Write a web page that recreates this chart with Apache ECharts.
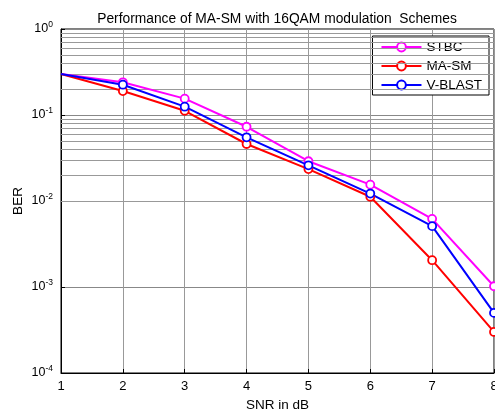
<!DOCTYPE html>
<html>
<head>
<meta charset="utf-8">
<script src="https://cdn.jsdelivr.net/npm/echarts@6/dist/echarts.min.js"></script>
<style>
  html, body { margin: 0; padding: 0; background: #fff; }
  #main { width: 495px; height: 410px; }
</style>
</head>
<body>
<div id="main"></div>
<script>
// data
var snr = [1, 2, 3, 4, 5, 6, 7, 8];
var stbc = [0.3, 0.24, 0.155, 0.073, 0.029, 0.0155, 0.0062, 0.00102];
var masm = [0.3, 0.19, 0.112, 0.046, 0.0235, 0.0112, 0.00205, 0.0003];
var vblast = [0.3, 0.225, 0.125, 0.055, 0.026, 0.0122, 0.0051, 0.0005];
var names = ['STBC', 'MA-SM', 'V-BLAST'];
var colors = ['#ff00ff', '#ff0000', '#0000ff'];
// minor log grid lines (2..9 per decade)
var minorLines = [];
[1e-4, 1e-3, 1e-2, 1e-1].forEach(function (d) {
    for (var k = 2; k <= 9; k++) minorLines.push(+(d * k).toPrecision(3));
});

function pairs(ys) {
    return snr.map(function (x, i) {
        var item = { value: [x, ys[i]] };
        if (i === 0) item.symbol = 'none';
        return item;
    });
}

function makeSeries(name, ys, color) {
    return {
        name: name,
        type: 'line',
        data: pairs(ys),
        symbol: 'circle',
        symbolSize: 8,
        showAllSymbol: true,
        clip: false,
        z: 5,
        lineStyle: { color: color, width: 2 },
        itemStyle: { color: '#fff', borderColor: color, borderWidth: 1.8 },
        emphasis: { disabled: true }
    };
}

var myChart = echarts.init(document.getElementById('main'));

var option = {
    animation: false,
    backgroundColor: '#fff',
    textStyle: { fontFamily: 'Liberation Sans, Arial, sans-serif' },
    title: {
        text: 'Performance of MA-SM with 16QAM modulation  Schemes',
        left: 272,
        textAlign: 'center',
        top: 7,
        textStyle: { fontSize: 13.8, fontWeight: 'normal', color: '#000' }
    },
    legend: {
        data: names,
        orient: 'vertical',
        right: 6,
        top: 36,
        padding: [4, 7, 3, 8],
        itemGap: 5,
        itemWidth: 40,
        itemHeight: 11,
        borderColor: '#000',
        borderWidth: 1,
        borderRadius: 0,
        backgroundColor: '#fff',
        textStyle: { fontSize: 13.5, color: '#000' }
    },
    grid: {
        left: 61,
        right: 1,
        top: 29,
        bottom: 37,
        outerBoundsMode: 'none',
        show: true,
        borderColor: '#000',
        borderWidth: 1,
        backgroundColor: '#fff'
    },
    xAxis: {
        type: 'value',
        min: 1,
        max: 8,
        interval: 1,
        name: 'SNR in dB',
        nameLocation: 'middle',
        nameGap: 25,
        nameMoveOverlap: false,
        nameTextStyle: { fontSize: 13.5, color: '#000' },
        axisLine: { lineStyle: { color: '#000' } },
        axisTick: { inside: true, length: 4, lineStyle: { color: '#000' } },
        axisLabel: { fontSize: 13, color: '#000', margin: 7 },
        splitLine: { lineStyle: { color: '#999', width: 1 } }
    },
    yAxis: {
        type: 'log',
        logBase: 10,
        min: 1e-4,
        max: 1,
        name: 'BER',
        nameLocation: 'middle',
        nameGap: 36,
        nameMoveOverlap: false,
        nameRotate: 90,
        nameTextStyle: { fontSize: 13.5, color: '#000' },
        axisLine: { lineStyle: { color: '#000' } },
        axisTick: { inside: true, length: 4, lineStyle: { color: '#000' } },
        axisLabel: {
            margin: 8,
            formatter: function (v) {
                var e = Math.round(Math.log10(v));
                return '{b|10}{e|' + e + '}';
            },
            rich: {
                b: { fontSize: 12.5, color: '#000' },
                e: { fontSize: 8.5, color: '#000', padding: [0, 0, 9, 0] }
            }
        },
        splitLine: { lineStyle: { color: '#888', width: 1 } }
    },
    series: [
        makeSeries(names[0], stbc, colors[0]),
        makeSeries(names[1], masm, colors[1]),
        makeSeries(names[2], vblast, colors[2]),
        {
            name: 'minor',
            type: 'line',
            data: [],
            silent: true,
            markLine: {
                silent: true,
                symbol: 'none',
                label: { show: false },
                animation: false,
                lineStyle: { color: '#999', type: 'solid', width: 1 },
                emphasis: { disabled: true },
                data: minorLines.map(function (v) { return { yAxis: v }; })
            }
        }
    ]
};

myChart.setOption(option);
</script>
</body>
</html>
